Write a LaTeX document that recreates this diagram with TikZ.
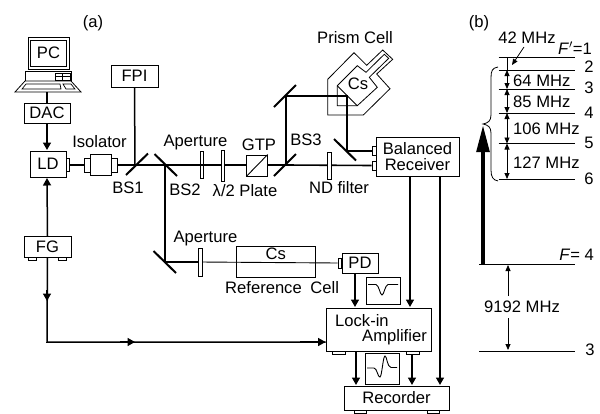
\documentclass[tikz,border=0pt]{standalone}
\usepackage{fontspec}
\setmainfont{Liberation Sans}
\usetikzlibrary{arrows.meta}
\tikzset{
 bx/.style={draw,line width=0.9pt,inner sep=0pt,fill=white},
 ft/.style={draw,line width=0.7pt,inner sep=0pt,fill=white},
 plate/.style={draw,line width=0.8pt,fill=white,inner sep=0pt,minimum width=3.6pt},
 lab/.style={inner sep=0pt,font=\fontsize{16.6}{18}\selectfont},
 beam/.style={line width=2.1pt},
 thinb/.style={line width=0.9pt},
 mir/.style={line width=2pt},
 sig/.style={line width=1.5pt},
 sigar/.style={line width=1.5pt,-{Triangle[length=7.5pt,width=8pt]}},
 lev/.style={line width=1pt},
 dimar/.style={line width=0.8pt,{Triangle[length=6pt,width=5pt]}-{Triangle[length=6pt,width=5pt]}},
 onear/.style={line width=0.8pt,-{Triangle[length=6pt,width=5pt]}},
}
\begin{document}
\begin{tikzpicture}[x=1pt,y=-1pt]
\useasboundingbox (0,0) rectangle (600,413);
\node[lab] (a) at (93,23) {(a)};
\node[lab] (b) at (479,23) {(b)};
% computer
\node[bx,minimum width=41,minimum height=32] (mon) at (48.5,53) {};
\node[bx,minimum width=36,minimum height=26,lab] (pc) at (48.5,53) {PC};
\node[bx,minimum width=46,minimum height=10] (base) at (48,76) {};
\draw[line width=0.7pt] (55,73) rectangle (70,80) (55,76.5) -- (70,76.5) (62,73) -- (62,80);
\draw[line width=0.8pt,fill=white] (25,81) -- (71,81) -- (81,92) -- (15,92) -- cycle;
\draw[line width=0.7pt] (26,84) -- (60,84) -- (61,89) -- (22,89) -- cycle (63,84) -- (71,84) -- (75,89) -- (66,89) -- cycle;
\coordinate (kb) at (47,92);
\node[bx,minimum width=46,minimum height=20,lab] (dac) at (47,113) {DAC};
\node[bx,minimum width=36,minimum height=26,lab] (ld) at (48,164) {LD};
\node[ft,minimum width=3,minimum height=13] (ldc) at (67.5,165) {};
\node[bx,minimum width=47,minimum height=21,lab] (fg) at (47.5,247) {FG};
\node[ft,minimum width=8,minimum height=3] (fg1) at (32,258.5) {};
\node[ft,minimum width=8,minimum height=3] (fg2) at (62,258.5) {};
\node[bx,minimum width=47,minimum height=22,lab] (fpi) at (134.5,76) {FPI};
\draw[sig] (kb) -- (dac.north);
\draw[sigar] (dac.south) -- (47,150);
\draw[sigar] (fg.north) -- (47,178);
% receiver, cells
\node[bx,minimum width=83,minimum height=39,align=center,font=\fontsize{16.6}{16}\selectfont] (br) at (417.5,156.5) {Balanced\\Receiver};
\node[ft,minimum width=4,minimum height=9] (c1) at (374,150.5) {};
\node[ft,minimum width=4,minimum height=9] (c2) at (374,165.5) {};
\node[bx,minimum width=36,minimum height=20,lab] (pd) at (360,263) {PD};
\node[ft,minimum width=3,minimum height=10] (pdc) at (339.5,263) {};
\node[bx,minimum width=105,minimum height=43] (lia) at (378.5,329.5) {};
\node[lab,anchor=west] at (335,321) {Lock-in};
\node[lab,anchor=east] at (427,337) {Amplifier};
\node[ft,minimum width=12.5,minimum height=3] (lf1) at (339,352.5) {};
\node[ft,minimum width=12.5,minimum height=3] (lf2) at (413,352.5) {};
\node[bx,minimum width=105,minimum height=24,lab] (rec) at (396.5,398) {Recorder};
\node[ft,minimum width=12,minimum height=3] (rf1) at (360,411.5) {};
\node[ft,minimum width=12,minimum height=3] (rf2) at (433,411.5) {};
\node[bx,minimum width=34,minimum height=27] (s1) at (383,290.5) {};
\node[bx,minimum width=34,minimum height=31] (s2) at (382.5,369) {};
\draw[line width=0.9pt] (368,284.5) -- (376,284.5) .. controls (379,285) and (380,295) .. (382,295) .. controls (384,295) and (385,285) .. (388,284.5) -- (398,284.5);
\draw[line width=0.9pt] (367,368) -- (374,368) .. controls (377,368) and (378,378) .. (380,377) .. controls (382,376) and (383,356) .. (385,356) .. controls (387,356) and (387,367) .. (391,367.5) -- (397,367.5);
\coordinate (fgm) at (47,301);
\coordinate (corner) at (47,342);
\coordinate (mid) at (135,342);
\coordinate (liain) at (lia.west |- mid);
\draw[sig] (fg.south) -- (corner) -- (liain);
\draw[sigar] (47,290) -- (fgm);
\draw[sigar] (120,342) -- (mid);
\draw[sigar] (300,342) -- (liain);
\draw[sigar] (pd.south -| 355,0) -- (355,307);
\draw[sigar] (br.south -| 410,0) -- (410,307);
\draw[sigar] (br.south -| 440,0) -- (440,385);
\draw[sigar] (lia.south -| 356,0) -- (356,385);
\draw[sigar] (lf2.south -| 412,0) -- (412,385);
% beams
\coordinate (bs1) at (135,165);
\coordinate (bs2) at (165,165);
\coordinate (bs3) at (286,165);
\coordinate (m1) at (286,96);
\coordinate (m2) at (347,96);
\coordinate (m3) at (347,151);
\coordinate (m4) at (165,262);
\coordinate (ap2) at (200.5,262);
\draw[sig] (fpi.south) -- (bs1);
\draw[beam] (ldc.east) -- (bs1) -- (bs3);
\draw[line width=1.6pt] (bs3) -- (c2.west);
\draw[beam] (bs2) -- (m4) -- (ap2);
\draw[thinb] (ap2) -- (pdc.west);
\draw[line width=1.7pt] (bs3) -- (m1);
% prism cell
\draw[line width=0.8pt] (327.7,79.3) -- (354,52.7) -- (366.7,65.3) -- (382.7,50) -- (392.7,59.3) -- (376.7,74) -- (390,88.7) -- (363.3,115) -- (327.7,115) -- cycle;
\draw[line width=0.8pt] (337.3,85.7) -- (357.3,65.7) -- (366,72.3) -- (384.3,54.3) -- (388.7,58.3) -- (369.3,77.3) -- (377.3,87.3) -- (357.3,105.7) -- (337.3,105.7) -- cycle;
\draw[line width=0.9pt] (337.3,85.7) -- (357.3,105.7);
\node[lab] (cs1) at (358,84) {Cs};
\node[lab] (pcell) at (355,38) {Prism Cell};
\draw[line width=1.5pt] (m1) -- (m2) -- (m3) -- (c1.west |- m3);
% components on the beam
\node[ft,minimum width=6,minimum height=14] (i1) at (87,165) {};
\node[bx,minimum width=21,minimum height=21] (i2) at (100.5,164.5) {};
\node[ft,minimum width=6,minimum height=14] (i3) at (114,165) {};
\draw[mir] (126,175) -- (148,153.5);
\draw[mir] (154.5,154) -- (177,176);
\node[plate,minimum height=27] (ap1) at (202,165) {};
\draw[beam] (200,165) -- (204,165);
\node[plate,minimum height=31] (hw) at (223,165.5) {};
\node[bx,minimum width=20.5,minimum height=21] (gtp) at (257,165.5) {};
\draw[line width=0.9pt] (gtp.south west) -- (gtp.north east);
\draw[mir] (274,176) -- (296,154);
\draw[mir] (274,107) -- (296,85);
\draw[mir] (334,139) -- (356,160.5);
\node[plate,minimum height=27] (nd) at (329.5,165.5) {};
\draw[mir] (153.5,251) -- (176,273);
\node[plate,minimum height=28] (ap3) at (200.5,262) {};
\node[draw,line width=0.9pt,inner sep=0pt,minimum width=79,minimum height=31] (rc) at (275.7,261.5) {};
\node[lab] (cs2) at (275.7,254) {Cs};
% labels
\node[lab] at (99.5,142) {Isolator};
\node[lab] at (128,187.5) {BS1};
\node[lab] at (185,189.5) {BS2};
\node[lab] at (195.5,143) {Aperture};
\node[lab] at (259,145) {GTP};
\node[lab] at (306,140) {BS3};
\node[lab] at (245,191) {λ/2 Plate};
\node[lab] at (339,188) {ND filter};
\node[lab] at (205.5,239) {Aperture};
\node[lab,anchor=west] at (225,288) {Reference\hspace{4pt} Cell};
% level diagram
\foreach \yy in {57,70,89,113,143.5,179} \draw[lev] (498.5,\yy) -- (574.5,\yy);
\draw[lev] (479,264) -- (575,264);
\draw[lev] (479,351) -- (575,351);
\draw[line width=0.8pt] (507,57) -- (507,70);
\draw[dimar] (507,70) -- (507,89);
\draw[dimar] (507,89) -- (507,113);
\draw[dimar] (507,113) -- (507,143.5);
\draw[dimar] (507,143.5) -- (507,179);
\draw[onear] (524,47) -- (512,65);
\draw[line width=0.8pt] (498,67) .. controls (492,68) and (491,71) .. (491,78) -- (491,115) .. controls (491,121) and (488,123) .. (483,124) .. controls (488,125) and (491,127) .. (491,133) -- (491,170) .. controls (491,177) and (493,180) .. (498,181);
\draw[line width=4pt,-{Triangle[length=27pt,width=12.5pt]}] (483,264) -- (483,125);
\draw[onear] (508,296) -- (508,265);
\draw[onear] (508,318) -- (508,350);
\node[lab] at (522,307) {9192 MHz};
\node[lab] at (527,38) {42 MHz};
\node[lab,anchor=east] at (592,48) {\textit{F}$'$=1};
\node[lab,anchor=west] at (513,81) {64 MHz};
\node[lab,anchor=west] at (513,102) {85 MHz};
\node[lab,anchor=west] at (513,129) {106 MHz};
\node[lab,anchor=west] at (513,163) {127 MHz};
\node[lab] at (589,67) {2};
\node[lab] at (589,88) {3};
\node[lab] at (589,113) {4};
\node[lab] at (589,143) {5};
\node[lab] at (589,179) {6};
\node[lab,anchor=east] at (594,255) {\textit{F}= 4};
\node[lab] at (590,350) {3};
\end{tikzpicture}
\end{document}
